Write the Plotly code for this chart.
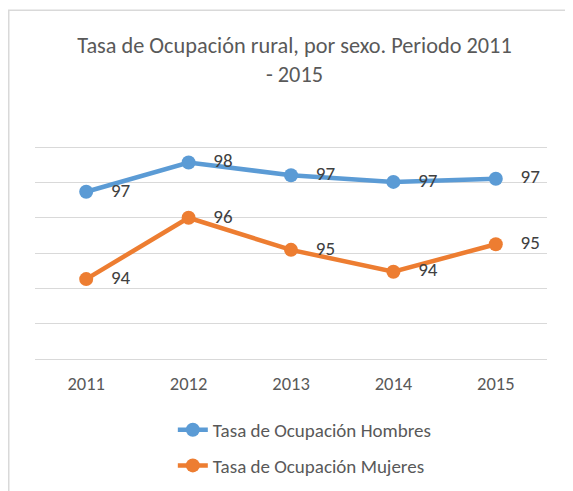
import plotly.graph_objects as go

years = ["2011", "2012", "2013", "2014", "2015"]
hombres = [96.74, 97.57, 97.21, 97.02, 97.11]
mujeres = [94.26, 96.0, 95.09, 94.47, 95.25]

FONT = "Carlito, Lato, sans-serif"
GREY = "#595959"

fig = go.Figure()

series = [
    ("Tasa de Ocupación Hombres", hombres, "#5B9BD5", "h"),
    ("Tasa de Ocupación Mujeres", mujeres, "#ED7D31", "m"),
]
for name, vals, color, grp in series:
    fig.add_trace(go.Scatter(
        x=years, y=vals, name=name, legendgroup=grp,
        mode="lines+markers",
        line=dict(color=color, width=4.5),
        marker=dict(color=color, size=14),
    ))
for name, vals, color, grp in series:
    # data labels: invisible big markers push the text to the right
    fig.add_trace(go.Scatter(
        x=years, y=vals, mode="markers+text", showlegend=False,
        text=[f"{v:.0f}" for v in vals], textposition="middle right",
        marker=dict(size=38, opacity=0),
        textfont=dict(family=FONT, size=19, color="#404040"),
        hoverinfo="skip",
    ))

# chart border like the Excel chart area
fig.add_shape(type="rect", xref="paper", yref="paper",
              x0=-0.0513, x1=1.08, y0=-0.8, y1=1.637,
              line=dict(color="#D9D9D9", width=1.5), fillcolor="rgba(0,0,0,0)",
              layer="below")

fig.update_layout(
    width=573, height=491,
    margin=dict(l=27, r=34, t=138, b=140),
    paper_bgcolor="white", plot_bgcolor="white",
    title=dict(
        text="Tasa de Ocupación rural, por sexo. Periodo 2011<br>- 2015",
        x=0.5, xanchor="center", y=0.909, yanchor="bottom",
        font=dict(family=FONT, size=22.3, color=GREY),
    ),
    xaxis=dict(
        type="category", range=[-0.5, 4.5], showgrid=False, showline=True,
        linecolor="#D9D9D9", linewidth=1, fixedrange=True,
        ticks="outside", ticklen=8, tickcolor="rgba(0,0,0,0)",
        tickfont=dict(family=FONT, size=18.5, color=GREY),
    ),
    yaxis=dict(
        range=[91.99, 98.04], tickvals=[92, 93, 94, 95, 96, 97, 98],
        showgrid=True, gridcolor="#D9D9D9",
        gridwidth=1, showticklabels=False, zeroline=False, fixedrange=True,
    ),
    showlegend=True,
    legend=dict(
        orientation="v", x=0.527, xanchor="center",
        yref="container", y=0.1795, yanchor="top",
        tracegroupgap=8,
        font=dict(family=FONT, size=19, color=GREY),
    ),
)

fig.write_html("out.html")
